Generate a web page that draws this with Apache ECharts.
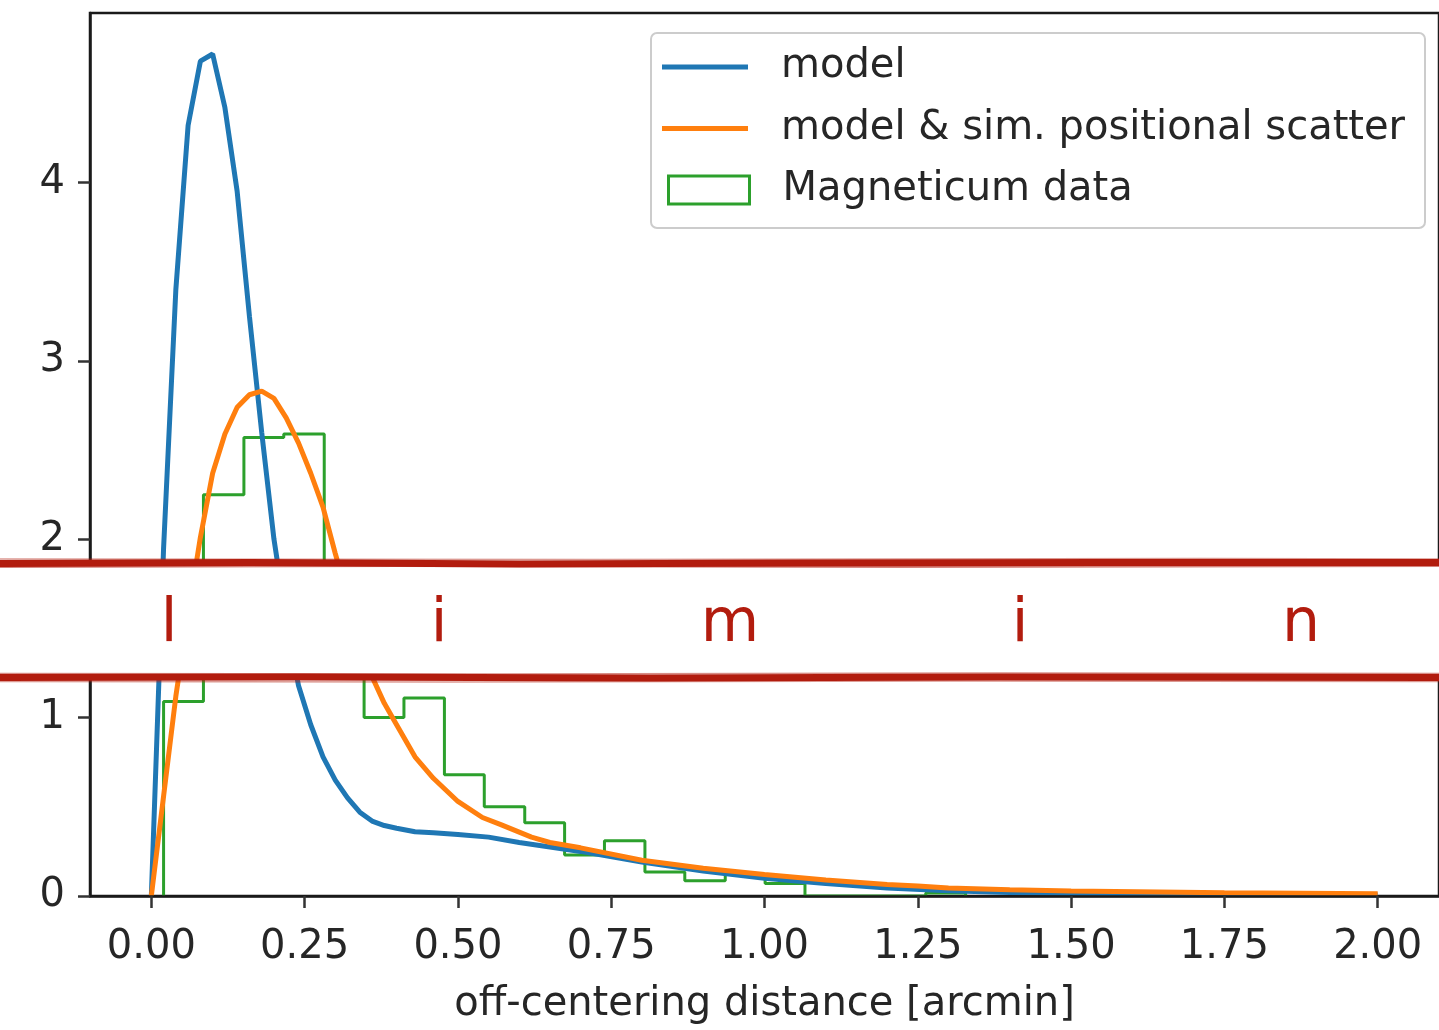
<!DOCTYPE html>
<html><head><meta charset="utf-8">
<script src="https://cdn.jsdelivr.net/npm/echarts@6/dist/echarts.min.js"></script>
<style>html,body{margin:0;padding:0;background:#fff}#c{width:1439px;height:1030px}</style>
</head><body><div id="c"></div>
<script>
// ---- data ----
const xTicks = [0, 0.25, 0.5, 0.75, 1.0, 1.25, 1.5, 1.75, 2.0];
const yTicks = [0, 1, 2, 3, 4];

const modelX = [0.00,0.02,0.04,0.06,0.08,0.10,0.12,0.14,0.16,0.18,0.20,0.22,0.24,0.26,0.28,0.30,0.32,0.34,0.36,0.38,0.40,0.43,0.46,0.50,0.55,0.60,0.65,0.70,0.80,0.90,1.00,1.10,1.20,1.30,1.40,1.50,1.75,2.00];
const modelY = [0.00,1.95,3.40,4.32,4.68,4.72,4.42,3.95,3.25,2.60,2.00,1.55,1.18,0.96,0.78,0.65,0.55,0.47,0.42,0.395,0.38,0.36,0.355,0.345,0.33,0.30,0.275,0.25,0.19,0.14,0.10,0.07,0.045,0.03,0.02,0.015,0.01,0.006];

const scatterX = [0.00,0.02,0.04,0.06,0.08,0.10,0.12,0.14,0.16,0.18,0.20,0.22,0.24,0.26,0.28,0.30,0.32,0.34,0.36,0.38,0.40,0.43,0.46,0.50,0.54,0.57,0.62,0.65,0.70,0.80,0.90,1.00,1.10,1.20,1.25,1.30,1.40,1.50,1.75,2.00];
const scatterY = [0.00,0.56,1.12,1.58,2.01,2.37,2.59,2.74,2.81,2.83,2.79,2.68,2.54,2.37,2.18,1.92,1.68,1.45,1.23,1.08,0.96,0.78,0.66,0.53,0.44,0.40,0.33,0.30,0.27,0.20,0.155,0.12,0.09,0.065,0.056,0.045,0.035,0.028,0.018,0.012];

const binEdges = [0.020,0.085,0.151,0.216,0.282,0.347,0.412,0.478,0.543,0.609,0.674,0.739,0.805,0.870,0.936,1.001,1.066,1.132,1.197,1.263,1.328];
const binHeights = [1.09,2.25,2.57,2.59,1.50,1.00,1.11,0.68,0.50,0.41,0.23,0.31,0.135,0.085,0.12,0.07,0,0,0,0.017];

const seriesNames = ['model', 'model & sim. positional scatter', 'Magneticum data'];
const xName = 'off-centering distance [arcmin]';
const bandLetters = ['l', 'i', 'm', 'i', 'n'];

// ---- build ----
const pairs = (xs, ys) => xs.map((x, i) => [x, ys[i]]);
const histPts = [[binEdges[0], 0]];
binHeights.forEach((h, i) => { histPts.push([binEdges[i], h]); histPts.push([binEdges[i + 1], h]); });
histPts.push([binEdges[binEdges.length - 1], 0]);

const FONT = 'DejaVu Sans';
const FS = 40;
const TXT = '#262626';
const RED = '#b21c0e';
const BLUE = '#1f77b4', ORANGE = '#ff7f0e', GREEN = '#2ca02c';
const letterX = [169, 439, 730, 1020, 1301];

const graphics = [
  // legend frame
  { type: 'rect', z: 5, silent: true, shape: { x: 651, y: 33, width: 774, height: 195, r: 6 }, style: { fill: 'rgba(255,255,255,0.85)', stroke: '#cccccc', lineWidth: 2 } },
  // overlay band
  { type: 'rect', z: 100, silent: true, shape: { x: 0, y: 565, width: 1439, height: 111 }, style: { fill: '#ffffff' } },
  { type: 'polyline', z: 101, silent: true, shape: { points: [[0, 563.5], [250, 562.5], [520, 564], [800, 563], [1100, 562.5], [1439, 562.5]] }, style: { stroke: RED, lineWidth: 7, fill: null } },
  { type: 'polyline', z: 101, silent: true, shape: { points: [[0, 567], [400, 566], [900, 567], [1439, 566]] }, style: { stroke: RED, lineWidth: 2, opacity: 0.55, fill: null } },
  { type: 'polyline', z: 101, silent: true, shape: { points: [[0, 559], [600, 559.5], [1200, 558.5], [1439, 559]] }, style: { stroke: RED, lineWidth: 1.5, opacity: 0.45, fill: null } },
  { type: 'polyline', z: 101, silent: true, shape: { points: [[0, 677.5], [300, 677], [650, 678], [1000, 677], [1439, 677.5]] }, style: { stroke: RED, lineWidth: 7, fill: null } },
  { type: 'polyline', z: 101, silent: true, shape: { points: [[0, 673.5], [500, 674], [1000, 673], [1439, 673.5]] }, style: { stroke: RED, lineWidth: 1.5, opacity: 0.5, fill: null } },
  { type: 'polyline', z: 101, silent: true, shape: { points: [[0, 681.5], [450, 682], [950, 681], [1439, 681.5]] }, style: { stroke: RED, lineWidth: 1.5, opacity: 0.45, fill: null } }
];
bandLetters.forEach((ch, i) => {
  graphics.push({ type: 'text', z: 102, silent: true, style: { text: ch, x: letterX[i], y: 625, align: 'center', verticalAlign: 'middle', textAlign: 'center', textVerticalAlign: 'middle', font: '60px "DejaVu Sans"', fill: RED } });
});

const legendText = { fontFamily: FONT, fontSize: FS, color: TXT, lineHeight: 44, padding: [17, 0, 0, 28] };

const chart = echarts.init(document.getElementById('c'), null, { renderer: 'canvas' });
chart.setOption({
  animation: false,
  backgroundColor: '#ffffff',
  grid: { left: 90, top: 13, right: -6, bottom: 134, show: true, borderColor: '#1a1a1a', borderWidth: 2.5, backgroundColor: 'transparent' },
  xAxis: {
    type: 'value', min: -0.1, max: 2.1, z: 10,
    axisLine: { show: true, onZero: false, lineStyle: { color: '#1a1a1a', width: 2.5 } },
    axisTick: { show: true, customValues: xTicks, length: 12, lineStyle: { color: '#333333', width: 2.5 } },
    axisLabel: { customValues: xTicks, formatter: v => Number(v).toFixed(2), fontFamily: FONT, fontSize: FS, color: TXT, margin: 32 },
    splitLine: { show: false },
    name: xName, nameLocation: 'middle', nameGap: 89,
    nameTextStyle: { fontFamily: FONT, fontSize: FS, color: TXT }
  },
  yAxis: {
    type: 'value', min: 0, max: 4.95, z: 10,
    axisLine: { show: true, onZero: false, lineStyle: { color: '#1a1a1a', width: 2.5 } },
    axisTick: { show: true, customValues: yTicks, length: 12, lineStyle: { color: '#333333', width: 2.5 } },
    axisLabel: { customValues: yTicks, formatter: v => String(Math.round(v)), fontFamily: FONT, fontSize: FS, color: TXT, margin: 25 },
    splitLine: { show: false }
  },
  legend: [
    {
      left: 662, top: 36.5, orient: 'vertical', selectedMode: false, z: 6, padding: 0,
      data: [
        { name: seriesNames[0], icon: 'rect', itemStyle: { color: BLUE } },
        { name: seriesNames[1], icon: 'rect', itemStyle: { color: ORANGE } }
      ],
      itemWidth: 86, itemHeight: 5, itemGap: 0.5,
      textStyle: legendText
    },
    {
      left: 667, top: 159.5, orient: 'vertical', selectedMode: false, z: 6, padding: 0,
      data: [
        { name: seriesNames[2], icon: 'rect', itemStyle: { color: 'rgba(255,255,255,0)', borderColor: GREEN, borderWidth: 3 } }
      ],
      itemWidth: 81, itemHeight: 28,
      textStyle: legendText
    }
  ],
  series: [
    { name: seriesNames[2], type: 'line', data: histPts, symbol: 'none', lineStyle: { color: GREEN, width: 3 }, itemStyle: { color: GREEN }, z: 2 },
    { name: seriesNames[0], type: 'line', data: pairs(modelX, modelY), symbol: 'none', lineStyle: { color: BLUE, width: 5 }, itemStyle: { color: BLUE }, z: 3 },
    { name: seriesNames[1], type: 'line', data: pairs(scatterX, scatterY), symbol: 'none', lineStyle: { color: ORANGE, width: 5 }, itemStyle: { color: ORANGE }, z: 4 }
  ],
  graphic: graphics
});
</script></body></html>
